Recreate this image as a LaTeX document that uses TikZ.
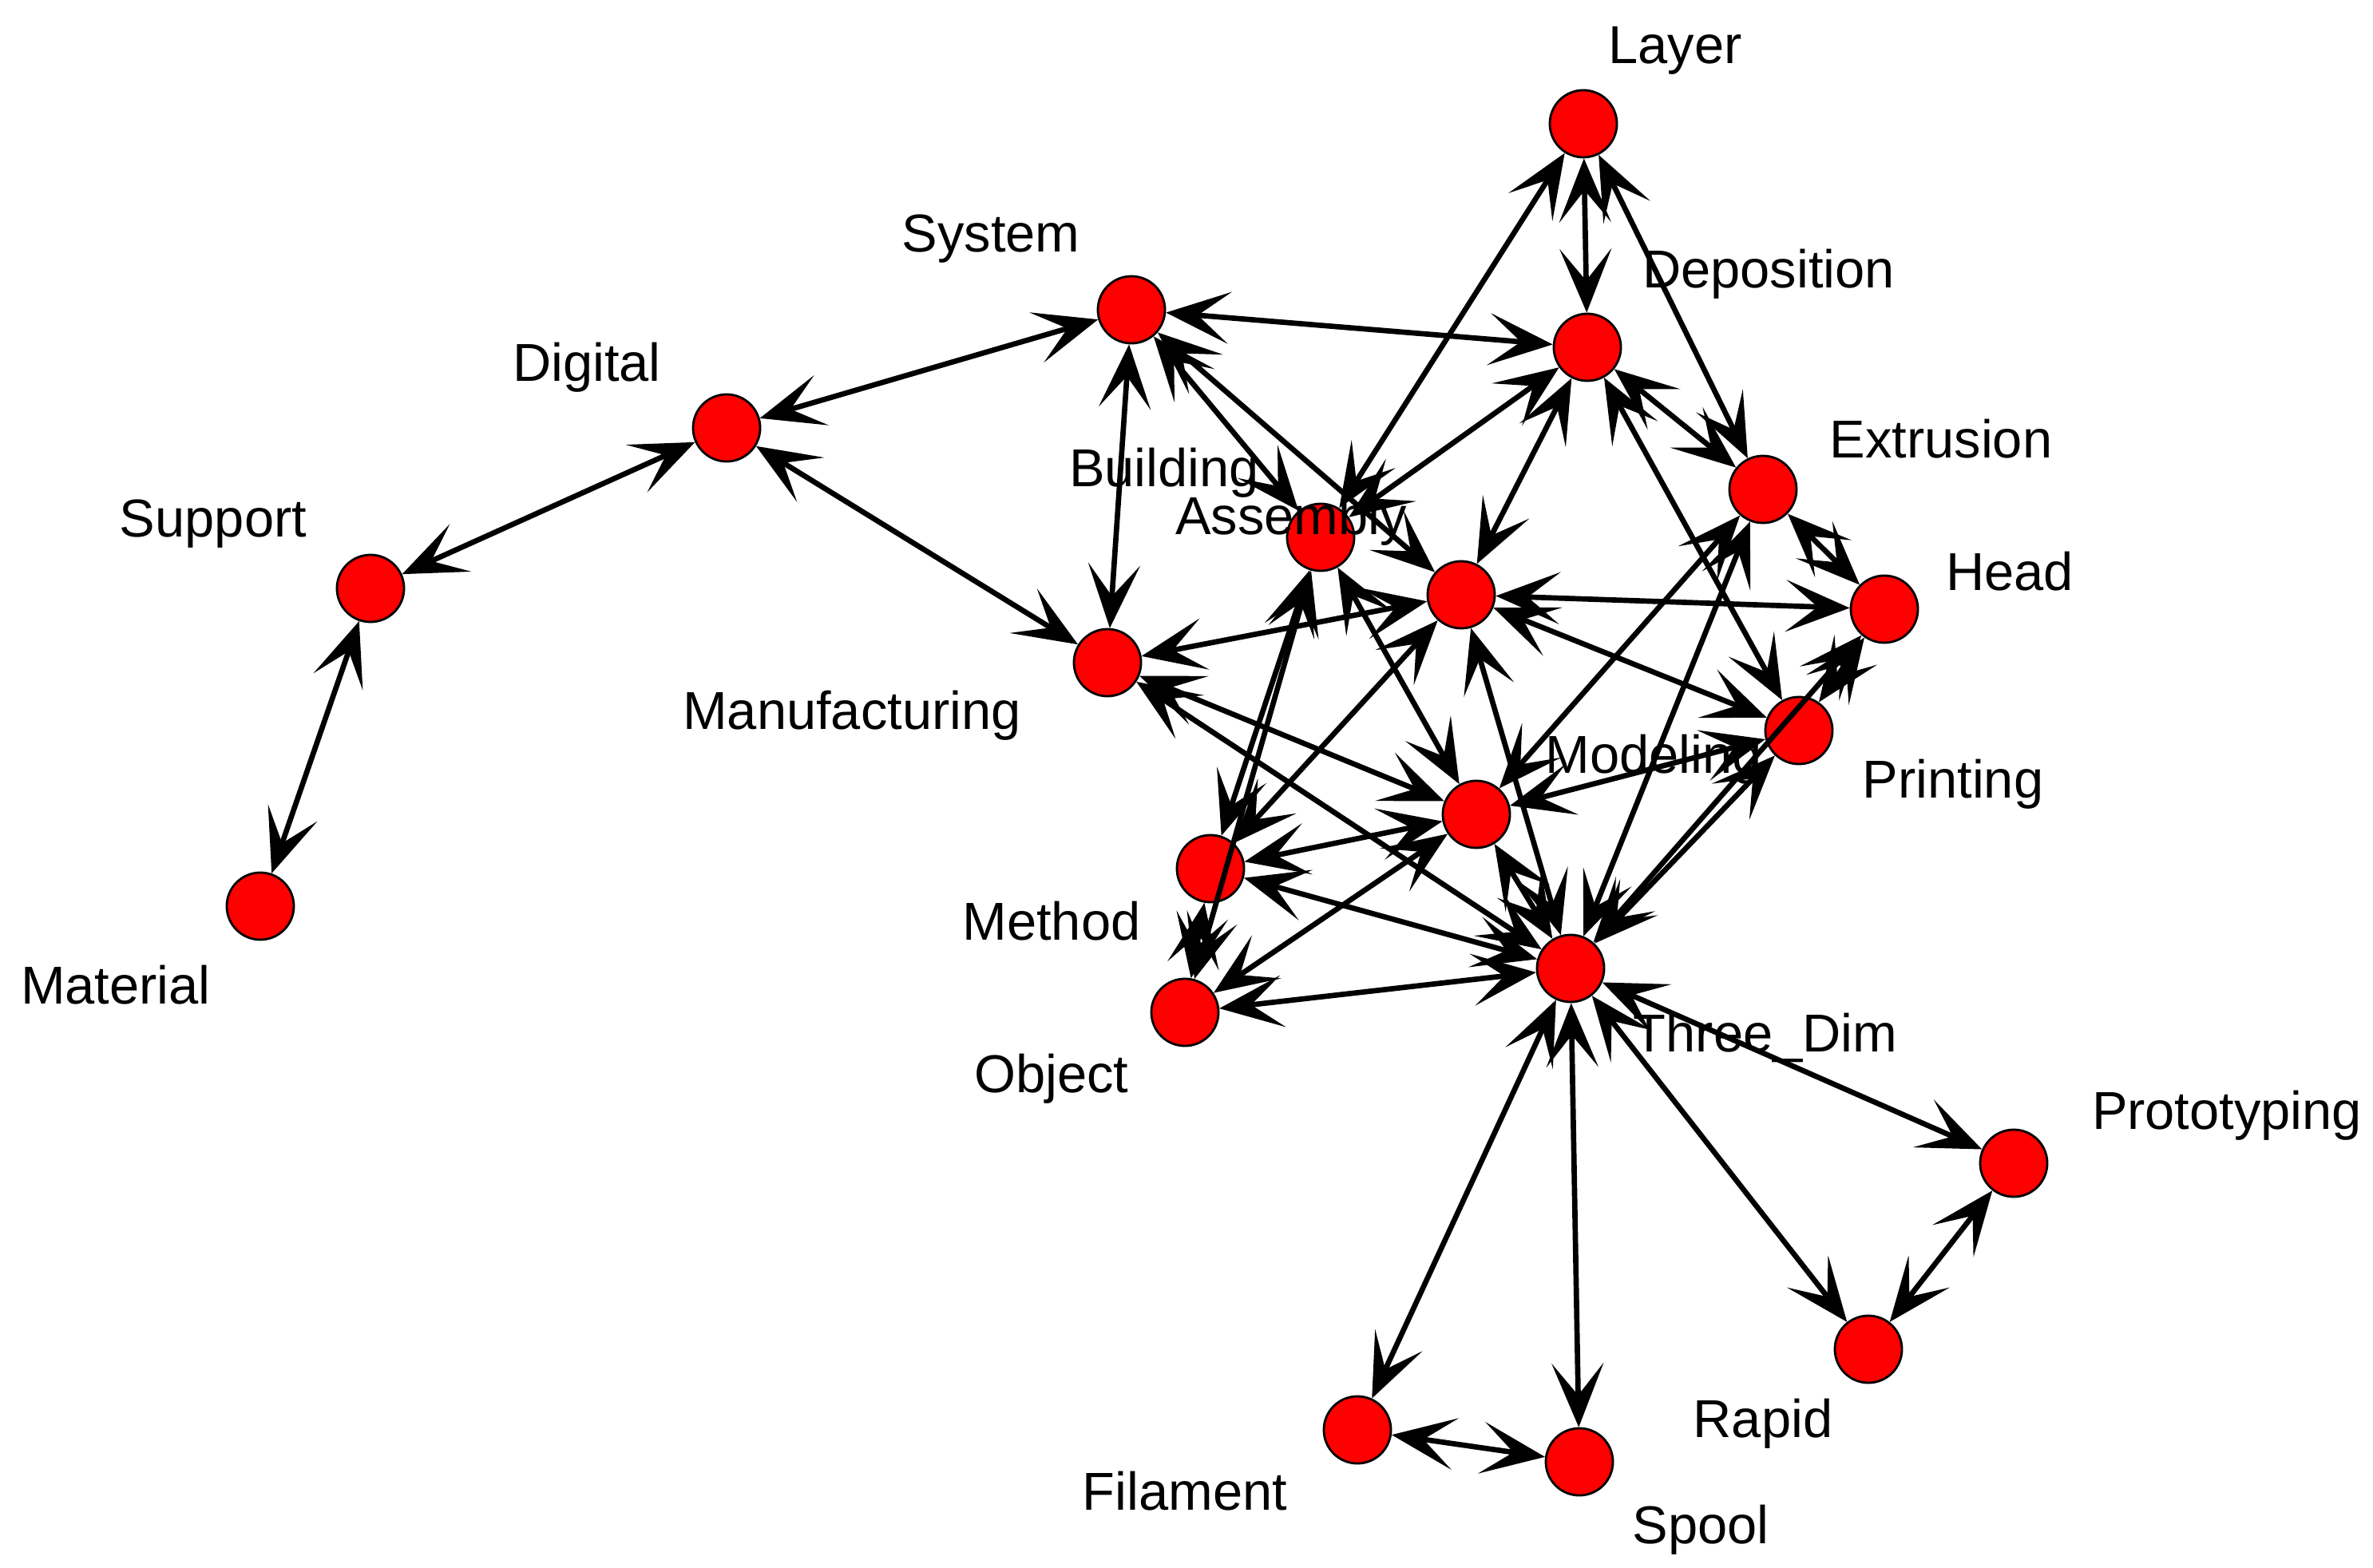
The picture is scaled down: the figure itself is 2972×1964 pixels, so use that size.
\documentclass[tikz,border=0pt]{standalone}
\usepackage{fontspec}
\setmainfont{Liberation Sans}
\usetikzlibrary{arrows.meta}
\tikzset{
  punta/.tip={Stealth[length=8mm,width=6.5mm,inset=4mm]},
  nodo/.style={circle,draw=black,line width=0.8pt,fill=red,minimum size=0.84cm,inner sep=0pt},
  etiqueta/.style={font=\fontsize{19}{22}\selectfont,inner sep=0pt},
  flecha/.style={line width=1.9pt,punta-punta}
}
\begin{document}
\begin{tikzpicture}[x=0.01cm,y=-0.01cm]
\useasboundingbox (0,0) rectangle (2972,1964);
% Nodos
\node[nodo] (layer) at (1983,155) {};
\node[nodo] (depo) at (1988,435) {};
\node[nodo] (sys) at (1417,388) {};
\node[nodo] (dig) at (910,536) {};
\node[nodo] (sup) at (464,737) {};
\node[nodo] (mat) at (326,1135) {};
\node[nodo] (extr) at (2208,613) {};
\node[nodo] (head) at (2360,763) {};
\node[nodo] (build) at (1654,673) {};
\node[nodo] (assem) at (1830,745) {};
\node[nodo] (manu) at (1387,830) {};
\node[nodo] (print) at (2253,915) {};
\node[nodo] (model) at (1849,1020) {};
\node[nodo] (meth) at (1516,1088) {};
\node[nodo] (obj) at (1484,1268) {};
\node[nodo] (three) at (1967,1213) {};
\node[nodo] (proto) at (2522,1457) {};
\node[nodo] (rapid) at (2340,1690) {};
\node[nodo] (fil) at (1700,1791) {};
\node[nodo] (spool) at (1978,1831) {};
% Aristas
\foreach \a/\b in {dig/sys,dig/sup,sup/mat,dig/manu,sys/manu,sys/depo,sys/build,sys/assem,
  layer/depo,layer/build,layer/extr,depo/build,depo/assem,depo/extr,depo/print,
  extr/head,extr/model,extr/three,head/assem,head/print,head/three,
  assem/print,assem/manu,assem/meth,assem/three,build/model,build/meth,build/obj,
  manu/model,manu/three,model/print,model/three,model/meth,model/obj,
  meth/obj,meth/three,obj/three,print/three,
  three/proto,three/rapid,three/fil,three/spool,proto/rapid,fil/spool}
  \draw[flecha] (\a) -- (\b);
% Etiquetas
\node[etiqueta] (layer-l) at (2098,63) {Layer};
\node[etiqueta] (depo-l) at (2215,343) {Deposition};
\node[etiqueta] (sys-l) at (1241,299) {System};
\node[etiqueta] (dig-l) at (735,460) {Digital};
\node[etiqueta] (sup-l) at (267,656) {Support};
\node[etiqueta] (mat-l) at (145,1234) {Material};
\node[etiqueta] (extr-l) at (2431,550) {Extrusion};
\node[etiqueta] (head-l) at (2517,716) {Head};
\node[etiqueta] (build-l) at (1458,592) {Building};
\node[etiqueta] (assem-l) at (1617,652) {Assembly};
\node[etiqueta] (manu-l) at (1067,896) {Manufacturing};
\node[etiqueta] (print-l) at (2446,982) {Printing};
\node[etiqueta] (model-l) at (2071,951) {Modeling};
\node[etiqueta] (meth-l) at (1317,1154) {Method};
\node[etiqueta] (obj-l) at (1317,1351) {Object};
\node[etiqueta] (three-l) at (2211,1300) {Three\_Dim};
\node[etiqueta] (proto-l) at (2789,1397) {Prototyping};
\node[etiqueta] (rapid-l) at (2208,1783) {Rapid};
\node[etiqueta] (fil-l) at (1484,1868) {Filament};
\node[etiqueta] (spool-l) at (2130,1916) {Spool};
\end{tikzpicture}
\end{document}
